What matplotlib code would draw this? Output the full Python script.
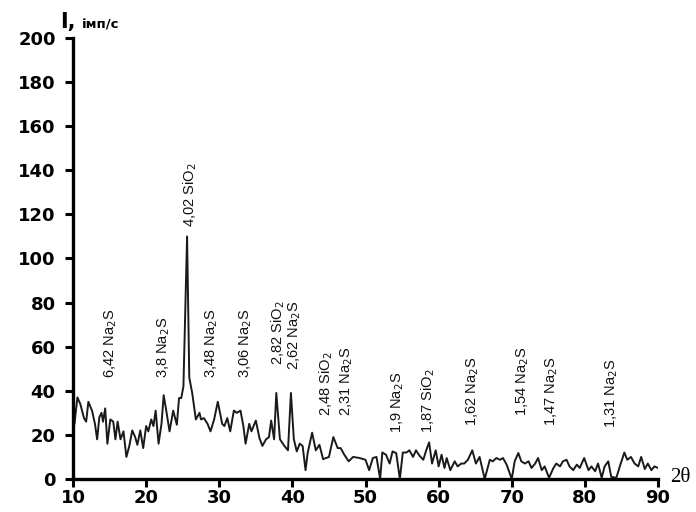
import matplotlib
matplotlib.use("Agg")
import matplotlib.pyplot as plt

matplotlib.rcParams['font.family'] = ['DejaVu Sans']

# 2theta, degrees
two_theta = [10.0, 10.2, 10.6, 11.0, 11.5, 11.8, 12.1, 12.6, 13.0, 13.3, 13.6, 13.9,
             14.1, 14.4, 14.7, 15.1, 15.5, 15.8, 16.1, 16.5, 16.9, 17.3, 17.7, 18.1,
             18.5, 18.8, 19.2, 19.6, 20.0, 20.3, 20.7, 21.0, 21.3, 21.7, 22.1, 22.4,
             22.8, 23.2, 23.7, 24.2, 24.5, 24.8, 25.1, 25.6, 25.9, 26.3, 26.8, 27.3,
             27.5, 27.9, 28.4, 28.8, 29.3, 29.8, 30.4, 30.7, 31.1, 31.5, 32.0, 32.4,
             32.9, 33.3, 33.6, 34.1, 34.4, 35.0, 35.5, 35.9, 36.4, 36.8, 37.1, 37.5,
             37.8, 38.3, 38.9, 39.4, 39.8, 40.2, 40.6, 41.0, 41.4, 41.8, 42.1, 42.7,
             43.2, 43.7, 44.2, 45.0, 45.6, 46.2, 46.6, 47.1, 47.7, 48.3, 49.2, 50.0,
             50.5, 51.0, 51.5, 52.0, 52.3, 52.8, 53.3, 53.7, 54.2, 54.7, 55.1, 55.6,
             56.0, 56.5, 56.9, 57.4, 57.9, 58.3, 58.7, 59.1, 59.6, 60.0, 60.4, 60.8,
             61.1, 61.6, 62.2, 62.6, 63.1, 63.5, 64.0, 64.6, 65.1, 65.6, 66.3, 67.0,
             67.4, 67.9, 68.4, 68.8, 69.3, 70.0, 70.4, 70.9, 71.3, 71.8, 72.3, 72.7,
             73.2, 73.6, 74.1, 74.5, 75.1, 75.7, 76.1, 76.6, 77.0, 77.5, 77.9, 78.4,
             78.9, 79.3, 79.9, 80.5, 80.9, 81.4, 81.8, 82.3, 82.7, 83.2, 83.6, 84.3,
             84.9, 85.4, 85.8, 86.3, 86.8, 87.3, 87.7, 88.2, 88.6, 89.1, 89.5, 90.0]

# intensity, imp/s
intensity = [24, 25, 37, 34, 27.6, 26, 35, 31, 25, 18, 28, 30,
             26, 32, 16, 27, 26, 18, 26, 18, 21.6, 10, 15, 22,
             19, 15.5, 22, 14, 24, 21.6, 27, 24, 31, 16, 25, 38,
             30, 21.6, 31, 24.6, 36.7, 36.7, 42, 110, 46, 39, 27, 30,
             27, 27.6, 25, 21.6, 27, 35, 25, 24, 27.6, 21.6, 31, 30,
             31, 24, 16, 25, 21.6, 26.5, 18.5, 15, 18, 19, 26.5, 18,
             39, 18, 15, 13, 39, 18, 12.5, 16, 15, 4, 12, 21,
             13, 15.5, 9, 10, 19, 14, 14, 11, 8, 10, 9.5, 8.7,
             4, 9.5, 10, 0, 12, 11, 7, 12.5, 11.7, 0, 12, 12,
             13, 10, 13, 10.5, 8.7, 13, 16.6, 7, 13, 5.7, 11, 5,
             9.5, 4, 8, 5.7, 7, 7, 8.7, 13, 7, 10, 0, 8.7,
             8, 9.5, 8.7, 9.5, 6.5, 0, 8, 11.8, 8, 7, 8, 5,
             7, 9.5, 4, 5.7, 0.5, 5, 7, 5.7, 8, 8.7, 5.7, 4,
             6.5, 5, 9.5, 4, 5.7, 3.5, 7, 0.5, 5.7, 8, 1, 0.5,
             7, 12, 8.7, 10, 7, 5.7, 10, 4.5, 7, 4, 5.7, 5]

# peak annotations: d-spacing + phase, x position, base height
peak_labels = ["6,42 Na$_2$S", "3,8 Na$_2$S", "4,02 SiO$_2$", "3,48 Na$_2$S",
               "3,06 Na$_2$S", "2,82 SiO$_2$", "2,62 Na$_2$S", "2,48 SiO$_2$",
               "2,31 Na$_2$S", "1,9 Na$_2$S", "1,87 SiO$_2$", "1,62 Na$_2$S",
               "1,54 Na$_2$S", "1,47 Na$_2$S", "1,31 Na$_2$S"]
peak_x = [15.1, 22.4, 26.0, 29.0, 33.6, 38.0, 40.3, 44.6,
          47.4, 54.4, 58.5, 64.7, 71.5, 75.4, 83.6]
peak_y = [45.7, 45.7, 114.3, 45.7, 45.7, 51.7, 49.5, 28.4,
          28.4, 20.8, 20.8, 23.8, 28.4, 23.8, 23.0]

fig = plt.figure(figsize=(6.96, 5.12), dpi=100)
ax = fig.add_axes([0.1049, 0.0645, 0.8405, 0.8613])

ax.plot(two_theta, intensity, color="#1a1a1a", linewidth=1.4)

for lbl, px, py in zip(peak_labels, peak_x, peak_y):
    ax.text(px, py, lbl, rotation=90, ha="center", va="bottom",
            fontsize=10.5, family=['Liberation Sans Narrow', 'Liberation Sans'],
            color="#111111")

ax.set_xlim(10, 90)
ax.set_ylim(0, 200)
ax.set_xticks(range(10, 91, 10))
ax.set_yticks(range(0, 201, 20))
for s in ["top", "right"]:
    ax.spines[s].set_visible(False)
for s in ["left", "bottom"]:
    ax.spines[s].set_linewidth(2.4)
ax.tick_params(direction="out", length=5.5, width=2.2, labelsize=13)
ax.tick_params(axis="y", pad=7)
ax.tick_params(axis="x", pad=1.5)
for t in ax.get_xticklabels() + ax.get_yticklabels():
    t.set_fontweight("bold")

fig.text(0.087, 0.957, "I,", fontsize=15, fontweight="bold", va="center", ha="left")
fig.text(0.117, 0.952, "імп/с", fontsize=9.5, fontweight="bold", va="center", ha="left")
fig.text(0.963, 0.067, "2θ", fontsize=15, family=['Liberation Serif', 'DejaVu Serif'],
         va="center", ha="left")

plt.savefig("out.png", dpi=100)
